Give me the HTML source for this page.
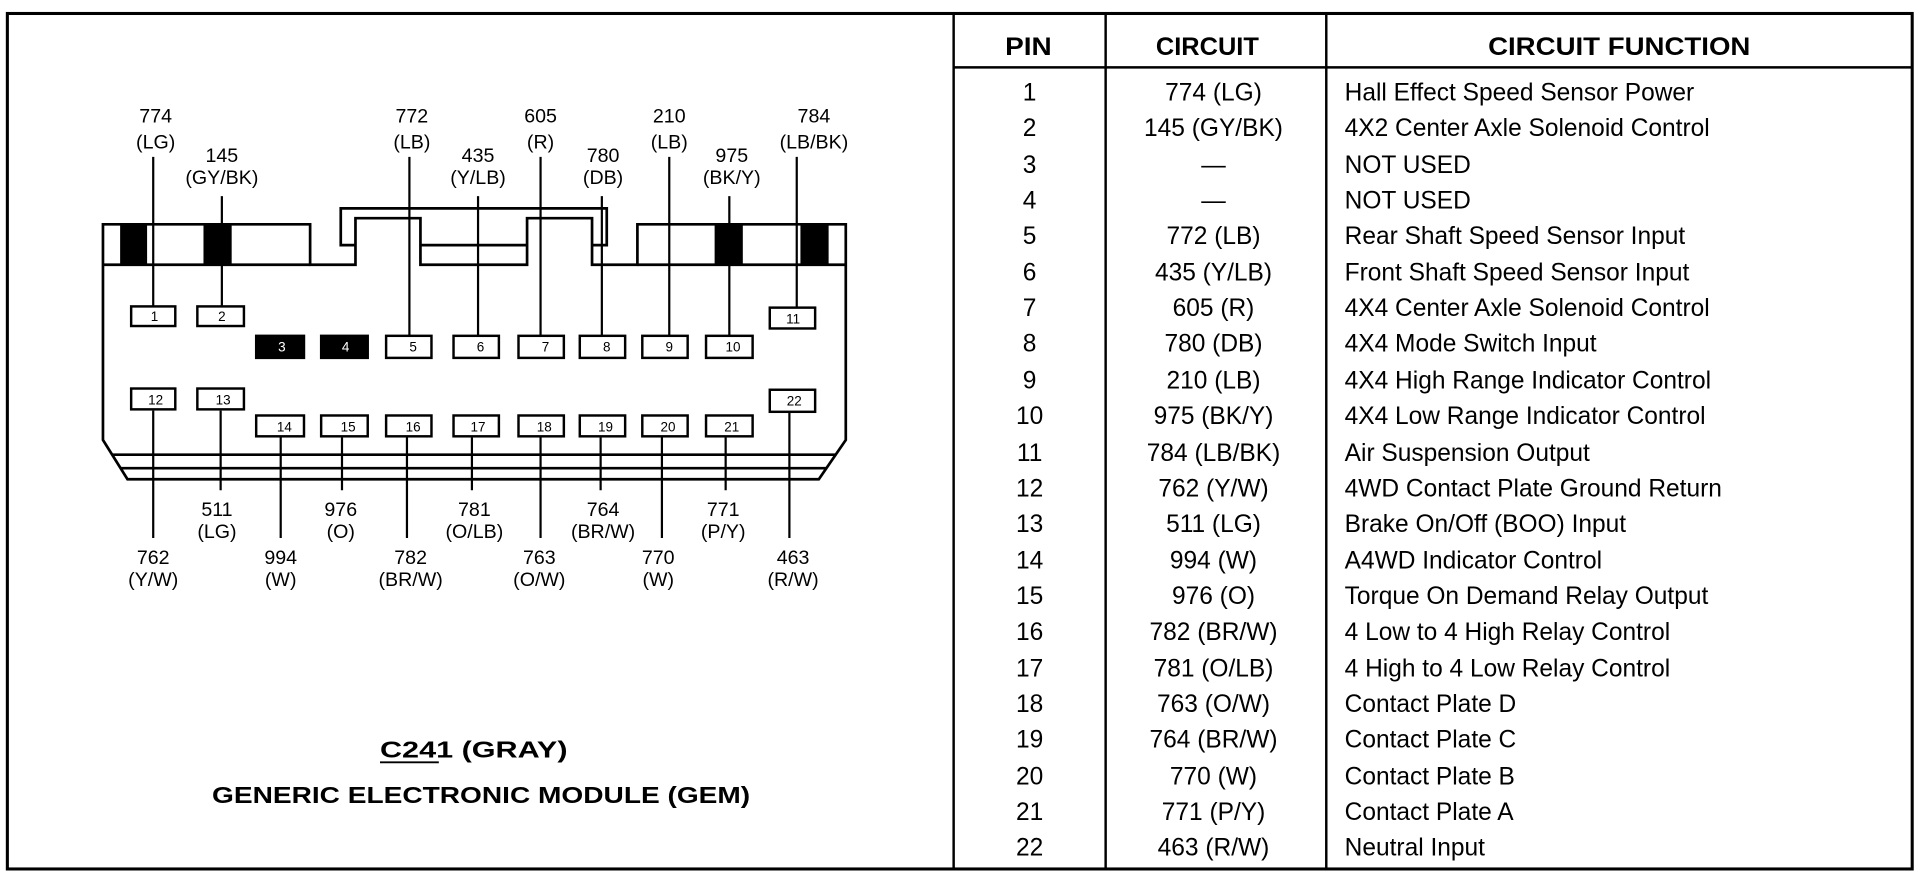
<!DOCTYPE html>
<html><head><meta charset="utf-8"><style>
html,body{margin:0;padding:0;background:#fff;}
svg{display:block;}
text{font-family:"Liberation Sans",Arial,sans-serif;}
</style></head><body>
<svg width="1922" height="880" viewBox="0 0 1568 718" preserveAspectRatio="none" xmlns="http://www.w3.org/2000/svg">
<g fill="none" stroke="#000">
<rect x="6" y="11" width="1554" height="698" stroke-width="2.5"/>
<line x1="778" y1="11" x2="778" y2="709" stroke-width="2"/>
<line x1="902" y1="11" x2="902" y2="709" stroke-width="2"/>
<line x1="1082" y1="11" x2="1082" y2="709" stroke-width="2"/>
<line x1="778" y1="55" x2="1560" y2="55" stroke-width="2"/>
</g>
<g font-size="20" font-weight="bold" text-anchor="middle" fill="#000">
<text x="839" y="45" textLength="38" lengthAdjust="spacingAndGlyphs">PIN</text>
<text x="985" y="45" textLength="84" lengthAdjust="spacingAndGlyphs">CIRCUIT</text>
<text x="1321" y="45" textLength="214" lengthAdjust="spacingAndGlyphs">CIRCUIT FUNCTION</text>
</g>
<g font-size="20" fill="#000">
<g text-anchor="middle">
<text x="840" y="82">1</text><text x="990" y="82">774 (LG)</text>
<text x="840" y="111">2</text><text x="990" y="111">145 (GY/BK)</text>
<text x="840" y="141">3</text><text x="990" y="141">—</text>
<text x="840" y="170">4</text><text x="990" y="170">—</text>
<text x="840" y="199">5</text><text x="990" y="199">772 (LB)</text>
<text x="840" y="229">6</text><text x="990" y="229">435 (Y/LB)</text>
<text x="840" y="258">7</text><text x="990" y="258">605 (R)</text>
<text x="840" y="287">8</text><text x="990" y="287">780 (DB)</text>
<text x="840" y="317">9</text><text x="990" y="317">210 (LB)</text>
<text x="840" y="346">10</text><text x="990" y="346">975 (BK/Y)</text>
<text x="840" y="376">11</text><text x="990" y="376">784 (LB/BK)</text>
<text x="840" y="405">12</text><text x="990" y="405">762 (Y/W)</text>
<text x="840" y="434">13</text><text x="990" y="434">511 (LG)</text>
<text x="840" y="464">14</text><text x="990" y="464">994 (W)</text>
<text x="840" y="493">15</text><text x="990" y="493">976 (O)</text>
<text x="840" y="522">16</text><text x="990" y="522">782 (BR/W)</text>
<text x="840" y="552">17</text><text x="990" y="552">781 (O/LB)</text>
<text x="840" y="581">18</text><text x="990" y="581">763 (O/W)</text>
<text x="840" y="610">19</text><text x="990" y="610">764 (BR/W)</text>
<text x="840" y="640">20</text><text x="990" y="640">770 (W)</text>
<text x="840" y="669">21</text><text x="990" y="669">771 (P/Y)</text>
<text x="840" y="698">22</text><text x="990" y="698">463 (R/W)</text>
</g>
<g>
<text x="1097" y="82">Hall Effect Speed Sensor Power</text>
<text x="1097" y="111">4X2 Center Axle Solenoid Control</text>
<text x="1097" y="141">NOT USED</text>
<text x="1097" y="170">NOT USED</text>
<text x="1097" y="199">Rear Shaft Speed Sensor Input</text>
<text x="1097" y="229">Front Shaft Speed Sensor Input</text>
<text x="1097" y="258">4X4 Center Axle Solenoid Control</text>
<text x="1097" y="287">4X4 Mode Switch Input</text>
<text x="1097" y="317">4X4 High Range Indicator Control</text>
<text x="1097" y="346">4X4 Low Range Indicator Control</text>
<text x="1097" y="376">Air Suspension Output</text>
<text x="1097" y="405">4WD Contact Plate Ground Return</text>
<text x="1097" y="434">Brake On/Off (BOO) Input</text>
<text x="1097" y="464">A4WD Indicator Control</text>
<text x="1097" y="493">Torque On Demand Relay Output</text>
<text x="1097" y="522">4 Low to 4 High Relay Control</text>
<text x="1097" y="552">4 High to 4 Low Relay Control</text>
<text x="1097" y="581">Contact Plate D</text>
<text x="1097" y="610">Contact Plate C</text>
<text x="1097" y="640">Contact Plate B</text>
<text x="1097" y="669">Contact Plate A</text>
<text x="1097" y="698">Neutral Input</text>
</g>
</g>

<g fill="#000">
<rect x="98" y="183" width="22" height="33"/><rect x="166" y="183" width="23" height="33"/>
<rect x="583" y="183" width="23" height="33"/><rect x="653" y="183" width="23" height="33"/>
</g>
<g fill="none" stroke="#000" stroke-width="2.2">
<path d="M84,183 L84,359 L104,391 L668,391 L690,359 L690,183 L520,183 L520,216 L483,216 L483,178 L430,178 L430,216 L343,216 L343,178 L290,178 L290,216 L253,216 L253,183 Z"/>
<line x1="84" y1="216" x2="253" y2="216"/>
<line x1="520" y1="216" x2="690" y2="216"/>
<path d="M290,200 L278,200 L278,170 L495,170 L495,200 L483,200"/>
<line x1="343" y1="200" x2="430" y2="200"/>
<line x1="91" y1="371" x2="682" y2="371"/>
<line x1="98" y1="382" x2="674" y2="382"/>
<g stroke-width="1.8">
<line x1="125" y1="128" x2="125" y2="250"/>
<line x1="181" y1="160" x2="181" y2="250"/>
<line x1="334" y1="128" x2="334" y2="274"/>
<line x1="390" y1="160" x2="390" y2="274"/>
<line x1="441" y1="128" x2="441" y2="274"/>
<line x1="491" y1="160" x2="491" y2="274"/>
<line x1="546" y1="128" x2="546" y2="274"/>
<line x1="595" y1="160" x2="595" y2="274"/>
<line x1="650" y1="128" x2="650" y2="251"/>
<line x1="125" y1="335" x2="125" y2="439"/>
<line x1="180" y1="335" x2="180" y2="400"/>
<line x1="229" y1="357" x2="229" y2="439"/>
<line x1="279" y1="357" x2="279" y2="400"/>
<line x1="332" y1="357" x2="332" y2="439"/>
<line x1="385" y1="357" x2="385" y2="400"/>
<line x1="441" y1="357" x2="441" y2="439"/>
<line x1="490" y1="357" x2="490" y2="400"/>
<line x1="540" y1="357" x2="540" y2="439"/>
<line x1="592" y1="357" x2="592" y2="400"/>
<line x1="644" y1="336" x2="644" y2="439"/>
</g>
</g>
<g stroke="#000" stroke-width="2" fill="#fff">
<rect x="107" y="250" width="36" height="16"/><rect x="161" y="250" width="38" height="16"/>
<rect x="628" y="251" width="37" height="17"/>
<rect x="209" y="274" width="39" height="18" fill="#000"/><rect x="262" y="274" width="38" height="18" fill="#000"/>
<rect x="315" y="274" width="37" height="18"/><rect x="370" y="274" width="37" height="18"/>
<rect x="423" y="274" width="37" height="18"/><rect x="473" y="274" width="37" height="18"/>
<rect x="524" y="274" width="37" height="18"/><rect x="576" y="274" width="38" height="18"/>
<rect x="107" y="317" width="36" height="17"/><rect x="161" y="317" width="38" height="17"/>
<rect x="628" y="318" width="37" height="18"/>
<rect x="209" y="339" width="39" height="17"/><rect x="262" y="339" width="38" height="17"/>
<rect x="315" y="339" width="37" height="17"/><rect x="370" y="339" width="37" height="17"/>
<rect x="423" y="339" width="37" height="17"/><rect x="473" y="339" width="37" height="17"/>
<rect x="524" y="339" width="37" height="17"/><rect x="576" y="339" width="38" height="17"/>
</g>
<g font-size="11" text-anchor="middle" fill="#000">
<text x="126" y="262">1</text><text x="181" y="262">2</text><text x="647" y="264">11</text>
<text x="230" y="287" style="fill:#fff">3</text><text x="282" y="287" style="fill:#fff">4</text>
<text x="337" y="287">5</text><text x="392" y="287">6</text><text x="445" y="287">7</text>
<text x="495" y="287">8</text><text x="546" y="287">9</text><text x="598" y="287">10</text>
<text x="127" y="330">12</text><text x="182" y="330">13</text><text x="648" y="331">22</text>
<text x="232" y="352">14</text><text x="284" y="352">15</text><text x="337" y="352">16</text>
<text x="390" y="352">17</text><text x="444" y="352">18</text><text x="494" y="352">19</text>
<text x="545" y="352">20</text><text x="597" y="352">21</text>
</g>
<g font-size="16" text-anchor="middle" fill="#000">
<text x="127" y="100">774</text><text x="127" y="121">(LG)</text>
<text x="181" y="132">145</text><text x="181" y="150">(GY/BK)</text>
<text x="336" y="100">772</text><text x="336" y="121">(LB)</text>
<text x="390" y="132">435</text><text x="390" y="150">(Y/LB)</text>
<text x="441" y="100">605</text><text x="441" y="121">(R)</text>
<text x="492" y="132">780</text><text x="492" y="150">(DB)</text>
<text x="546" y="100">210</text><text x="546" y="121">(LB)</text>
<text x="597" y="132">975</text><text x="597" y="150">(BK/Y)</text>
<text x="664" y="100">784</text><text x="664" y="121">(LB/BK)</text>
<text x="177" y="421">511</text><text x="177" y="439">(LG)</text>
<text x="278" y="421">976</text><text x="278" y="439">(O)</text>
<text x="387" y="421">781</text><text x="387" y="439">(O/LB)</text>
<text x="492" y="421">764</text><text x="492" y="439">(BR/W)</text>
<text x="590" y="421">771</text><text x="590" y="439">(P/Y)</text>
<text x="125" y="460">762</text><text x="125" y="478">(Y/W)</text>
<text x="229" y="460">994</text><text x="229" y="478">(W)</text>
<text x="335" y="460">782</text><text x="335" y="478">(BR/W)</text>
<text x="440" y="460">763</text><text x="440" y="478">(O/W)</text>
<text x="537" y="460">770</text><text x="537" y="478">(W)</text>
<text x="647" y="460">463</text><text x="647" y="478">(R/W)</text>
</g>
<g font-size="19" font-weight="bold" fill="#000">
<text x="310" y="618" textLength="153" lengthAdjust="spacingAndGlyphs">C241 (GRAY)</text>
<line x1="310" y1="622" x2="358" y2="622" stroke="#000" stroke-width="1.5"/>
<text x="173" y="655" textLength="439" lengthAdjust="spacingAndGlyphs">GENERIC ELECTRONIC MODULE (GEM)</text>
</g>
</svg>
</body></html>
